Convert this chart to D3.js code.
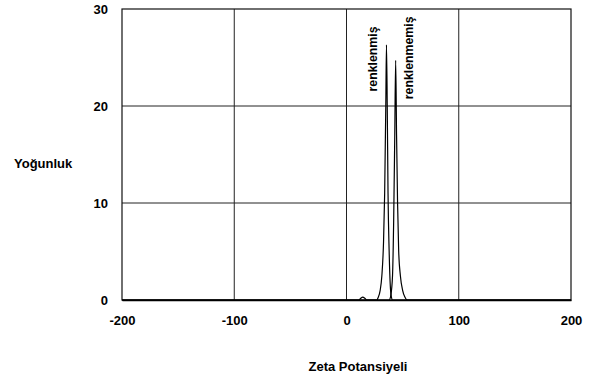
<!DOCTYPE html>
<html><head><meta charset="utf-8">
<script src="https://cdn.jsdelivr.net/npm/d3@7"></script>
<style>body{margin:0;background:#fff}svg{display:block}text{font-family:"Liberation Sans",Arial,sans-serif;font-weight:bold;font-size:13px;fill:#000}</style>
</head><body><svg id="c" width="596" height="378"></svg>
<script>
const xTicks = [-200, -100, 0, 100, 200];
const yTicks = [0, 10, 20, 30];
const seriesNames = ["renklenmiş", "renklenmemiş"];
// renklenmiş (coloured)
const renklenmisX = [-200, 11, 12.5, 14.5, 16.5, 18, 27, 28, 30, 31.5, 33, 34, 35, 35.6, 36.3, 37, 38, 39, 40, 41, 200];
const renklenmisY = [0, 0, 0.15, 0.3, 0.15, 0, 0, 0.2, 1, 2.5, 6, 11, 20, 26.3, 20, 11, 5, 1.5, 0.3, 0, 0];
// renklenmemiş (uncoloured)
const renklenmemisX = [-200, 38, 39.5, 41, 42, 43, 43.8, 44.6, 45.5, 46.5, 48, 50, 52, 54, 200];
const renklenmemisY = [0, 0, 0.5, 2.5, 8, 17, 24.7, 17, 10, 5, 2.5, 1, 0.3, 0, 0];

const svg = d3.select("#c");
const L = 122, R = 571, T = 9, B = 300;
const x = d3.scaleLinear().domain([-200, 200]).range([L, R]);
const y = d3.scaleLinear().domain([0, 30]).range([B, T]);

// grid
svg.append("g").selectAll("line").data(xTicks.slice(1, -1)).join("line")
  .attr("x1", d => x(d)).attr("x2", d => x(d)).attr("y1", T).attr("y2", B)
  .attr("stroke", "#222").attr("stroke-width", 1);
svg.append("g").selectAll("line").data(yTicks.slice(1, -1)).join("line")
  .attr("y1", d => y(d)).attr("y2", d => y(d)).attr("x1", L).attr("x2", R)
  .attr("stroke", "#222").attr("stroke-width", 1);
svg.append("rect").attr("x", L).attr("y", T).attr("width", R - L).attr("height", B - T)
  .attr("fill", "none").attr("stroke", "#111").attr("stroke-width", 1.2);

// axes
const xa = svg.append("g").attr("transform", `translate(0,${B})`)
  .call(d3.axisBottom(x).tickValues(xTicks).tickSize(0).tickPadding(16).tickFormat(d => String(d)));
xa.select(".domain").attr("stroke", "#000").attr("stroke-width", 1.6);
const ya = svg.append("g").attr("transform", `translate(${L},0)`)
  .call(d3.axisLeft(y).tickValues(yTicks).tickSize(0).tickPadding(14).tickFormat(d => String(d)));
ya.select(".domain").remove();
svg.selectAll(".tick text").style("font-family", '"Liberation Sans",Arial,sans-serif').style("font-weight", "bold").style("font-size", "13px").attr("fill", "#000");

// lines
const line = d3.line().x(d => x(d[0])).y(d => y(d[1])).curve(d3.curveMonotoneX);
const s1 = renklenmisX.map((v, i) => [v, renklenmisY[i]]);
const s2 = renklenmemisX.map((v, i) => [v, renklenmemisY[i]]);
[s1, s2].forEach(s => svg.append("path").datum(s).attr("d", line)
  .attr("fill", "none").attr("stroke", "#000").attr("stroke-width", 1.2));

// peak labels
svg.append("text").attr("transform", `translate(${x(27)},${y(21.5)}) rotate(-90)`).style("font-size", "12.3px").text(seriesNames[0]);
svg.append("text").attr("transform", `translate(${x(59)},${y(20.7)}) rotate(-90)`).style("font-size", "12.3px").text(seriesNames[1]);

// axis titles
svg.append("text").attr("x", 14).attr("y", 168).text("Yoğunluk");
svg.append("text").attr("x", 358).attr("y", 371).attr("text-anchor", "middle").text("Zeta Potansiyeli");
</script></body></html>
